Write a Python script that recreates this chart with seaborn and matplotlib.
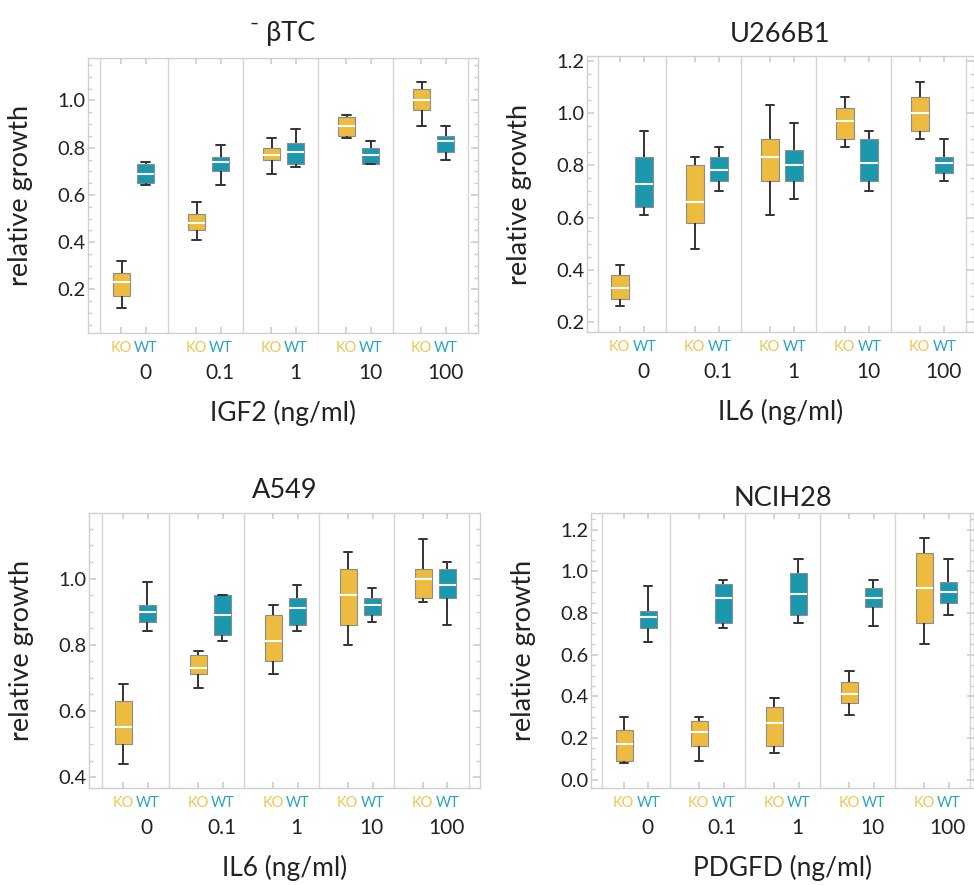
import numpy as np
import pandas as pd
import matplotlib
matplotlib.use("Agg")
import matplotlib.pyplot as plt
import matplotlib.transforms as mtransforms
from matplotlib.ticker import MultipleLocator
import seaborn as sns

# five-number summaries per dose: [low whisker, q1, median, q3, high whisker]
doses = ["0", "0.1", "1", "10", "100"]
genotypes = ["KO", "WT"]

btc_ko = [[0.12, 0.17, 0.23, 0.27, 0.32], [0.41, 0.45, 0.48, 0.52, 0.57],
          [0.69, 0.75, 0.77, 0.80, 0.84], [0.84, 0.85, 0.89, 0.93, 0.94],
          [0.89, 0.96, 1.00, 1.05, 1.08]]
btc_wt = [[0.64, 0.65, 0.69, 0.73, 0.74], [0.64, 0.70, 0.74, 0.76, 0.81],
          [0.72, 0.73, 0.78, 0.82, 0.88], [0.73, 0.73, 0.77, 0.80, 0.83],
          [0.75, 0.78, 0.83, 0.85, 0.89]]

u266_ko = [[0.26, 0.29, 0.33, 0.38, 0.42], [0.48, 0.58, 0.66, 0.80, 0.83],
           [0.61, 0.74, 0.83, 0.90, 1.03], [0.87, 0.90, 0.97, 1.02, 1.06],
           [0.90, 0.93, 1.00, 1.06, 1.12]]
u266_wt = [[0.61, 0.64, 0.73, 0.83, 0.93], [0.70, 0.74, 0.78, 0.83, 0.87],
           [0.67, 0.74, 0.80, 0.86, 0.96], [0.70, 0.74, 0.81, 0.90, 0.93],
           [0.74, 0.77, 0.81, 0.83, 0.90]]

a549_ko = [[0.44, 0.50, 0.55, 0.63, 0.68], [0.67, 0.71, 0.73, 0.77, 0.78],
           [0.71, 0.75, 0.81, 0.89, 0.92], [0.80, 0.86, 0.95, 1.03, 1.08],
           [0.93, 0.94, 1.00, 1.03, 1.12]]
a549_wt = [[0.84, 0.87, 0.90, 0.92, 0.99], [0.81, 0.83, 0.89, 0.95, 0.95],
           [0.84, 0.86, 0.91, 0.94, 0.98], [0.87, 0.89, 0.92, 0.94, 0.97],
           [0.86, 0.94, 0.98, 1.03, 1.05]]

nci_ko = [[0.08, 0.09, 0.17, 0.24, 0.30], [0.09, 0.16, 0.23, 0.28, 0.30],
          [0.13, 0.16, 0.27, 0.35, 0.39], [0.31, 0.37, 0.41, 0.47, 0.52],
          [0.65, 0.75, 0.92, 1.09, 1.16]]
nci_wt = [[0.66, 0.73, 0.78, 0.81, 0.93], [0.73, 0.75, 0.87, 0.94, 0.96],
          [0.75, 0.79, 0.89, 0.99, 1.06], [0.74, 0.83, 0.87, 0.92, 0.96],
          [0.79, 0.85, 0.90, 0.95, 1.06]]

titles = ["\u207b \u03b2TC", "U266B1", "A549", "NCIH28"]
xlabels = ["IGF2 (ng/ml)", "IL6 (ng/ml)", "IL6 (ng/ml)", "PDGFD (ng/ml)"]
ylims = [(0.015, 1.18), (0.162, 1.218), (0.367, 1.198), (-0.04, 1.28)]
xlims = [(-0.61, 4.59), (-0.60, 4.56), (-0.62, 4.60), (-0.60, 4.50)]
yticks = [[0.2, 0.4, 0.6, 0.8, 1.0], [0.2, 0.4, 0.6, 0.8, 1.0, 1.2],
          [0.4, 0.6, 0.8, 1.0], [0.0, 0.2, 0.4, 0.6, 0.8, 1.0, 1.2]]
panels = [(btc_ko, btc_wt), (u266_ko, u266_wt), (a549_ko, a549_wt), (nci_ko, nci_wt)]

ko_color = "#ecbb3f"
wt_color = "#1b97ae"
ko_text = "#f0c54e"
wt_text = "#2aa4c2"
text_color = "#222222"
frame_color = "#cfcfcf"

sns.set_theme(style="white")
plt.rcParams["font.family"] = ["Lato", "DejaVu Sans"]

fig = plt.figure(figsize=(9.74, 8.85), dpi=100)
W, H = 974, 885
# pixel boxes: left, top, right, bottom
boxes = [(88, 58, 478, 333), (587, 56, 974, 332), (89, 513, 480, 788), (591, 513, 974, 788)]
title_pads = [12, 10, 11, 5]

for k, (ko, wt) in enumerate(panels):
    l, t, r, b = boxes[k]
    ax = fig.add_axes([l / W, 1 - b / H, (r - l) / W, (b - t) / H])

    rows = []
    for g, vals in zip(genotypes, (ko, wt)):
        for d, five in zip(doses, vals):
            for v in five:
                rows.append({"dose": d, "genotype": g, "value": v})
    df = pd.DataFrame(rows)

    sns.boxplot(data=df, x="dose", y="value", hue="genotype", order=doses,
                hue_order=genotypes, palette=[ko_color, wt_color], saturation=1,
                width=0.64, gap=0.29, whis=(0, 100), legend=False, ax=ax,
                linewidth=1.4, linecolor="#333333",
                boxprops={"edgecolor": "#8c8c8c", "linewidth": 0.8},
                medianprops={"color": "white", "linewidth": 1.5},
                whiskerprops={"color": "#333333", "linewidth": 1.4},
                capprops={"color": "#333333", "linewidth": 1.4})

    for xs in [-0.45, 0.45, 1.45, 2.45, 3.45, 4.45]:
        ax.axvline(xs, color="#d4d4d4", linewidth=1.0, zorder=0)

    ax.set_xlim(*xlims[k])
    ax.set_ylim(*ylims[k])

    pos = []
    for i in range(len(doses)):
        pos += [i - 0.165, i + 0.165]
    ax.set_xticks(pos)
    ax.set_xticklabels(genotypes * len(doses), fontsize=10.5)
    for j, lab in enumerate(ax.get_xticklabels()):
        lab.set_color(ko_text if j % 2 == 0 else wt_text)
    ax.tick_params(axis="x", direction="in", top=True, bottom=True, length=4,
                   color=frame_color, pad=6)

    ax.set_yticks(yticks[k])
    ax.set_yticklabels([f"{v:.1f}" for v in yticks[k]], fontsize=14.5, color=text_color)
    ax.yaxis.set_minor_locator(MultipleLocator(0.05))
    ax.tick_params(axis="y", which="major", direction="in", left=True, right=True,
                   length=5, color=frame_color, pad=2)
    ax.tick_params(axis="y", which="minor", direction="in", left=True, right=True,
                   length=3, color=frame_color)

    trans = mtransforms.blended_transform_factory(ax.transData, ax.transAxes)
    for i, d in enumerate(doses):
        ax.text(i + 0.15, -0.145, d, transform=trans, ha="center", va="center",
                fontsize=15, color=text_color)

    ax.set_xlabel("")
    ax.text(0.5, -0.29, xlabels[k], transform=ax.transAxes, ha="center",
            va="center", fontsize=19, color=text_color)
    ax.set_ylabel("relative growth", fontsize=19.5, color=text_color, labelpad=17)
    ax.set_title(titles[k], fontsize=19.5, color=text_color, pad=title_pads[k])

    for s in ax.spines.values():
        s.set_color(frame_color)
        s.set_linewidth(1.0)
    ax.grid(False)

fig.savefig("out.png", dpi=100, facecolor="white")
